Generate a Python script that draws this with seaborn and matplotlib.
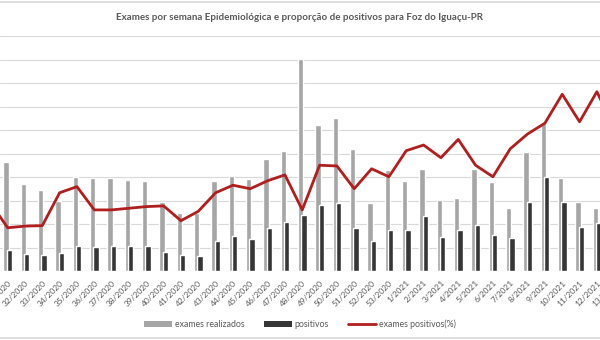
import numpy as np
import pandas as pd
import matplotlib
matplotlib.use("Agg")
import matplotlib.pyplot as plt
from matplotlib.patches import Patch
from matplotlib.lines import Line2D
import seaborn as sns

weeks = [f"{w}/2020" for w in range(30, 54)] + [f"{w}/2021" for w in range(1, 14)]
exames = [400, 465, 370, 345, 299, 401, 396, 396, 387, 382, 292, 247, 245, 382, 404,
          391, 477, 512, 901, 621, 651, 519, 291, 430, 382, 435, 301, 312, 433, 379,
          269, 506, 628, 396, 294, 269, 250]
positivos = [116, 88, 71, 68, 75, 108, 102, 105, 105, 105, 81, 68, 64, 128, 149,
             137, 183, 210, 240, 281, 291, 183, 126, 173, 176, 234, 146, 173, 196, 153,
             142, 294, 399, 294, 186, 206, 152]
pct_pos = [29.1, 18.4, 19.1, 19.3, 33.3, 35.9, 26.0, 26.0, 26.7, 27.4, 27.7, 21.4, 25.4,
           33.3, 36.5, 35.0, 38.4, 40.9, 26.0, 45.0, 44.7, 35.0, 43.5, 40.1, 51.2, 53.6,
           48.2, 56.0, 45.0, 40.1, 52.0, 58.3, 62.9, 75.2, 63.5, 76.3, 60.9]

sns.set_theme(style="white")
plt.rcParams["font.family"] = ["Lato", "DejaVu Sans"]

pos = np.arange(len(weeks))
df = pd.DataFrame({"pos": pos, "exames": exames, "positivos": positivos, "pct": pct_pos})

TXT = "#595959"
fig = plt.figure(figsize=(6, 3.4), dpi=100)
ax = fig.add_axes([0, 69 / 340, 1, 235 / 340])

sns.barplot(x=df["pos"] - 0.097, y=df["exames"], native_scale=True, width=0.31,
            color="#a6a6a6", saturation=1, errorbar=None, ax=ax, zorder=2)
sns.barplot(x=df["pos"] + 0.097, y=df["positivos"], native_scale=True, width=0.31,
            color="#363636", saturation=1, errorbar=None, ax=ax, zorder=3)

ax.set_ylim(0, 1000)
ax.set_yticks(np.arange(0, 1001, 100))
ax.yaxis.grid(True, color="#d9d9d9", linewidth=0.8)
ax.set_axisbelow(True)
ax.tick_params(axis="y", left=False, labelleft=False)
ax.set_xticks(pos)
ax.set_xticklabels(weeks, rotation=45, ha="right", rotation_mode="anchor",
                   fontsize=6, color=TXT)
ax.tick_params(axis="x", length=0, pad=6)
ax.set_xlabel("")
ax.set_ylabel("")
for s in ax.spines.values():
    s.set_visible(False)

ax2 = ax.twinx()
sns.lineplot(x=df["pos"], y=df["pct"], color="#b01e1e", linewidth=2, ax=ax2, zorder=4)
ax2.set_ylim(0, 100)
ax2.set_ylabel("")
ax2.tick_params(right=False, labelright=False)
for s in ax2.spines.values():
    s.set_visible(False)

ax.set_xlim(0.559, 35.18)

# label of the last week, whose tick lies just beyond the visible range
ax.annotate(weeks[-1], xy=(pos[-1], 0), xycoords=("data", "axes fraction"),
            xytext=(0, -6), textcoords="offset points", rotation=45,
            ha="right", va="top", rotation_mode="anchor", fontsize=6, color=TXT,
            annotation_clip=False)

fig.text(0.5, (340 - 17) / 340,
         "Exames por semana Epidemiológica e proporção de positivos para Foz do Iguaçu-PR",
         ha="center", va="center", fontsize=7, fontweight="bold", color=TXT)

handles = [Patch(facecolor="#a6a6a6", edgecolor="none"),
           Patch(facecolor="#363636", edgecolor="none"),
           Line2D([0], [0], color="#b01e1e", linewidth=2)]
fig.legend(handles, ["exames realizados", "positivos", "exames positivos(%)"],
           loc="center", bbox_to_anchor=(0.5, 16 / 340), ncol=3, frameon=False,
           fontsize=6.3, labelcolor=TXT, handlelength=3.2, handleheight=0.7,
           columnspacing=2.2, handletextpad=0.3)

fig.add_artist(Line2D([0, 1], [1 - 1.5 / 340, 1 - 1.5 / 340], color="#d9d9d9",
                      linewidth=1.2, transform=fig.transFigure))
fig.add_artist(Line2D([0, 1], [2 / 340, 2 / 340], color="#d9d9d9",
                      linewidth=1.2, transform=fig.transFigure))

fig.savefig("out.png", dpi=100)
